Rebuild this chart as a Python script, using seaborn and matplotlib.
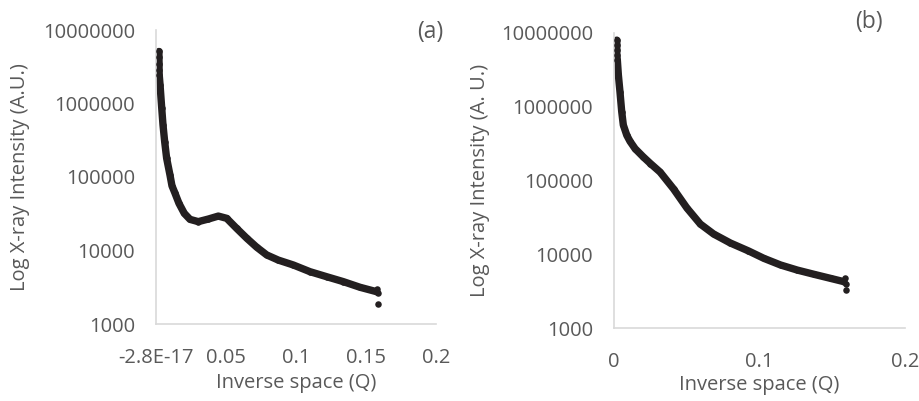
import matplotlib
matplotlib.use("Agg")
import matplotlib.pyplot as plt
import seaborn as sns
import pandas as pd
from matplotlib.ticker import FixedLocator, FixedFormatter

# ---------------- data ----------------
# Panel (a)
a_q = [0.0021, 0.0021, 0.0022, 0.0022, 0.0023, 0.0029, 0.0041, 0.0050, 0.0062,
       0.0076, 0.0100, 0.0114, 0.0136, 0.0164, 0.0202, 0.0243, 0.0302, 0.0374,
       0.0445, 0.0505, 0.0576, 0.0648, 0.0719, 0.0791, 0.0874, 0.0981, 0.1100,
       0.1219, 0.1338, 0.1457, 0.1576]
a_i = [5.1e6, 4.3e6, 3.5e6, 2.9e6, 2.45e6, 1.79e6, 8.6e5, 5.1e5, 3.02e5,
       1.8e5, 1.06e5, 7.6e4, 6.0e4, 4.38e4, 3.2e4, 2.65e4, 2.47e4, 2.68e4,
       2.94e4, 2.74e4, 2.0e4, 1.47e4, 1.11e4, 8.7e3, 7.4e3, 6.35e3, 5.15e3,
       4.4e3, 3.77e3, 3.16e3, 2.75e3]
a_tail_q = [0.1580, 0.1585, 0.1588]
a_tail_i = [3.0e3, 2.6e3, 1.9e3]

# Panel (b)
b_q = [0.0019, 0.0019, 0.0019, 0.0019, 0.0023, 0.0030, 0.0041, 0.0053, 0.0064,
       0.0088, 0.0110, 0.0145, 0.0200, 0.0250, 0.0317, 0.0409, 0.0501, 0.0593,
       0.0685, 0.0800, 0.0924, 0.1030, 0.1145, 0.1260, 0.1374, 0.1490, 0.1580]
b_i = [8.0e6, 6.9e6, 5.9e6, 5.0e6, 4.3e6, 2.7e6, 1.6e6, 8.6e5, 5.66e5,
       4.1e5, 3.4e5, 2.7e5, 2.1e5, 1.7e5, 1.3e5, 7.7e4, 4.24e4, 2.57e4,
       1.88e4, 1.42e4, 1.11e4, 8.8e3, 7.15e3, 6.1e3, 5.35e3, 4.7e3, 4.25e3]
b_tail_q = [0.1590, 0.1592, 0.1593]
b_tail_i = [4.8e3, 4.0e3, 3.3e3]

y_ticks = [1000, 10000, 100000, 1000000, 10000000]
y_labels = ["1000", "10000", "100000", "1000000", "10000000"]
a_xticks = [0.0, 0.05, 0.1, 0.15, 0.2]
a_xlabels = ["-2.8E-17", "0.05", "0.1", "0.15", "0.2"]
b_xticks = [0.0, 0.1, 0.2]
b_xlabels = ["0", "0.1", "0.2"]

xlabel = "Inverse space (Q)"
a_ylabel = "Log X-ray Intensity (A.U.)"
b_ylabel = "Log X-ray Intensity (A. U.)"

# ---------------- styling ----------------
sns.set_theme(style="white")
plt.rcParams["font.family"] = ["Open Sans", "DejaVu Sans"]
TXT = "#595959"
AX = "#D9D9D9"
MK = "#231F20"
FS = 14.5

fig = plt.figure(figsize=(9.19, 4.01), dpi=100)
ax_a = fig.add_axes([156 / 919, 1 - 324 / 401, 280 / 919, 294 / 401])
ax_b = fig.add_axes([614 / 919, 1 - 328 / 401, 291 / 919, 295 / 401])


def draw(ax, q, i, tq, ti, xt, xl, ylab, tag, tagpos):
    df = pd.DataFrame({"q": q, "i": i})
    dt = pd.DataFrame({"q": tq, "i": ti})
    sns.lineplot(data=df, x="q", y="i", ax=ax, color=MK, linewidth=5.3,
                 sort=False, estimator=None, solid_capstyle="round",
                 solid_joinstyle="round")
    sns.scatterplot(data=df, x="q", y="i", ax=ax, color=MK, s=22,
                    linewidth=0, zorder=3)
    sns.scatterplot(data=dt, x="q", y="i", ax=ax, color=MK, s=22,
                    linewidth=0, zorder=3)
    ax.set_yscale("log")
    ax.set_xlim(0, 0.2)
    ax.set_ylim(1000, 1e7)
    ax.yaxis.set_major_locator(FixedLocator(y_ticks))
    ax.yaxis.set_major_formatter(FixedFormatter(y_labels))
    ax.yaxis.set_minor_locator(FixedLocator([]))
    ax.xaxis.set_major_locator(FixedLocator(xt))
    ax.xaxis.set_major_formatter(FixedFormatter(xl))
    ax.tick_params(axis="both", length=0, labelsize=FS, labelcolor=TXT)
    ax.tick_params(axis="y", pad=15)
    ax.tick_params(axis="x", pad=17)
    for s in ["top", "right"]:
        ax.spines[s].set_visible(False)
    for s in ["left", "bottom"]:
        ax.spines[s].set_color(AX)
        ax.spines[s].set_linewidth(1.2)
    ax.set_xlabel(xlabel, fontsize=FS, color=TXT)
    ax.set_ylabel(ylab, fontsize=FS, color=TXT)
    ax.grid(False)
    ax.text(tagpos[0], tagpos[1], tag, transform=ax.transAxes, fontsize=16.5,
            color=TXT, ha="center", va="center")


draw(ax_a, a_q, a_i, a_tail_q, a_tail_i, a_xticks, a_xlabels, a_ylabel,
     "(a)", (0.979, 0.993))
draw(ax_b, b_q, b_i, b_tail_q, b_tail_i, b_xticks, b_xlabels, b_ylabel,
     "(b)", (0.876, 1.037))

ax_a.xaxis.set_label_coords(0.5, (324 - 383) / 294)
ax_a.xaxis.label.set_va("center")
ax_a.yaxis.set_label_coords((20 - 156) / 280, 0.5)
ax_a.yaxis.label.set_va("center")
ax_b.xaxis.set_label_coords(0.5, (328 - 385) / 295)
ax_b.xaxis.label.set_va("center")
ax_b.yaxis.set_label_coords((480 - 614) / 291, 0.5)
ax_b.yaxis.label.set_va("center")

fig.savefig("out.png", dpi=100, facecolor="white")
